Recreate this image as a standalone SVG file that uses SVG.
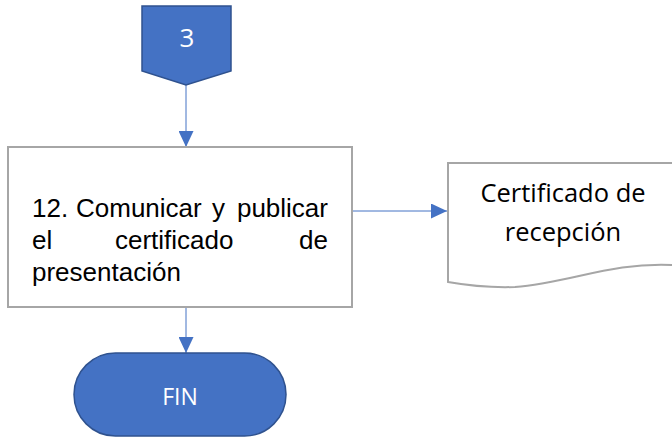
<svg xmlns="http://www.w3.org/2000/svg" width="672" height="438" viewBox="0 0 672 438">
<style>
.blue{fill:#4472c4;stroke:#2f528f;stroke-width:1.5}
.gray{fill:#ffffff;stroke:#a6a6a6;stroke-width:2}
.wt{fill:#ffffff;font-family:"Open Sans","Noto Sans",sans-serif;text-anchor:middle}
.bt{fill:#000000;font-family:"Liberation Sans",Arial,sans-serif;font-size:26px}
.ct{fill:#000000;font-family:"Open Sans","Noto Sans",sans-serif;font-size:25.5px;text-anchor:middle}
.conn{stroke:#4472c4;stroke-width:1;fill:none}
</style>
<defs>
<marker id="ah" viewBox="0 0 16 15" refX="16" refY="7.5" markerWidth="16" markerHeight="15" markerUnits="userSpaceOnUse" orient="auto">
<path d="M0,0 L16,7.5 L0,15 Z" fill="#4472c4"/>
</marker>
</defs>
<g id="connectors">
<line class="conn" x1="186" y1="85" x2="186" y2="147" marker-end="url(#ah)"/>
<line class="conn" x1="352" y1="211" x2="447" y2="211" marker-end="url(#ah)"/>
<line class="conn" x1="186" y1="307" x2="186" y2="353" marker-end="url(#ah)"/>
</g>
<g id="node-3">
<path class="blue" d="M142,6 L231,6 L231,71 L186,85 L142,71 Z"/>
<text class="wt" x="187" y="47" font-size="26">3</text>
</g>
<g id="node-12">
<rect class="gray" x="8" y="147" width="344" height="160"/>
<text class="bt" x="32" y="217">12.</text>
<text class="bt" x="76" y="217">Comunicar</text>
<text class="bt" x="212" y="217">y</text>
<text class="bt" x="328" y="217" text-anchor="end">publicar</text>
<text class="bt" x="32" y="249">el</text>
<text class="bt" x="115" y="249">certificado</text>
<text class="bt" x="328" y="249" text-anchor="end">de</text>
<text class="bt" x="32" y="281">presentación</text>
</g>
<g id="node-doc">
<path class="gray" d="M448,163 L673,163 L673,265 C610,262 570,283 515,287 C485,288 465,285 448,282 Z"/>
<text class="ct" x="563" y="202">Certificado de</text>
<text class="ct" x="563" y="241">recepción</text>
</g>
<g id="node-fin">
<rect class="blue" x="74" y="353" width="212" height="83" rx="41.5" ry="41.5"/>
<text class="wt" x="180" y="405" font-size="23">FIN</text>
</g>
</svg>
